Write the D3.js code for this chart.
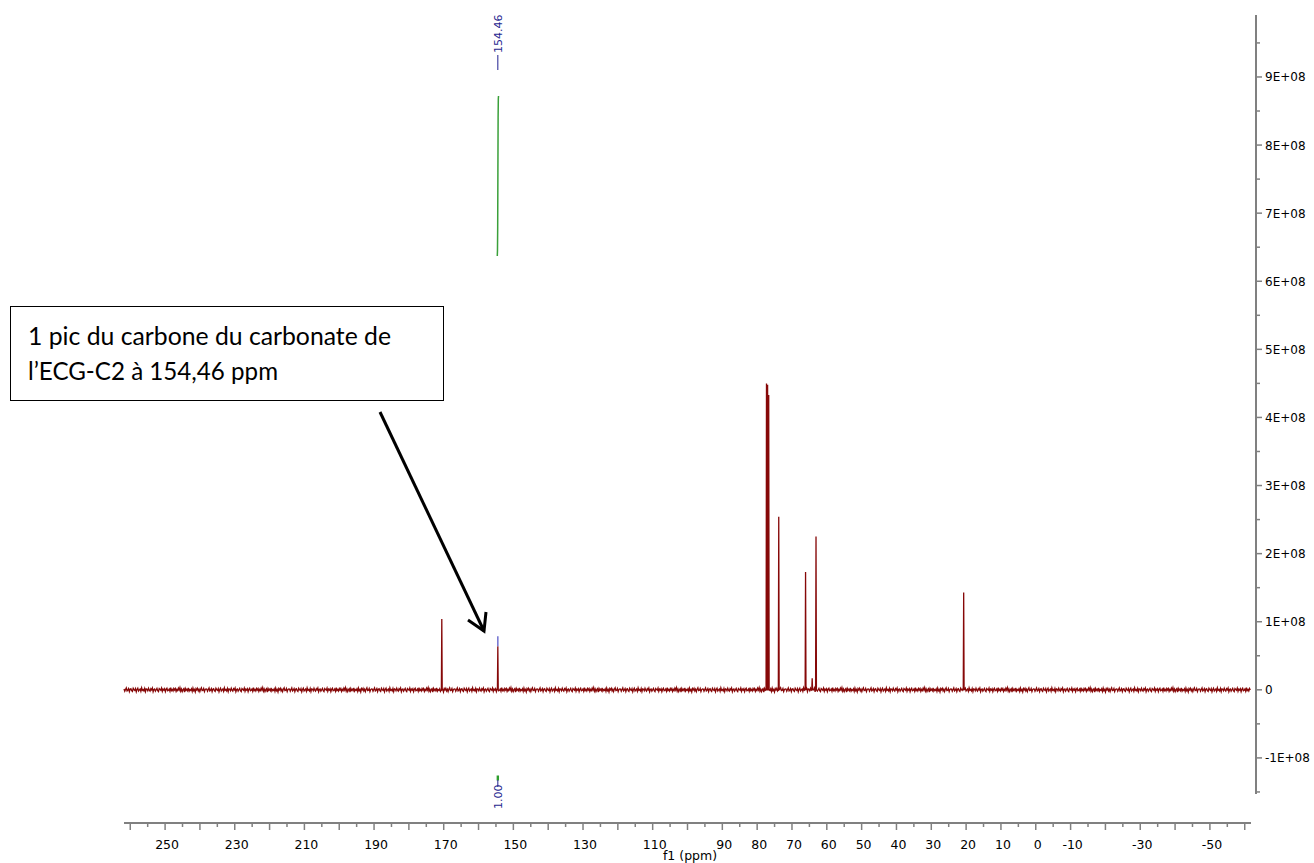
<!DOCTYPE html>
<html lang="fr">
<head>
<meta charset="utf-8">
<style>
  body { margin: 0; background: #fff; }
  svg { display: block; }
</style>
</head>
<body>
<script src="https://d3js.org/d3.v7.min.js"></script>
<script>
// peak positions (ppm) and heights (intensity)
var peakPpm    = [170.55, 154.46, 77.32, 77.0, 76.68, 73.8, 66.1, 64.2, 63.1, 20.7];
var peakHeight = [1.04e8, 0.64e8, 4.50e8, 4.48e8, 4.33e8, 2.54e8, 1.73e8, 0.17e8, 2.25e8, 1.43e8];

// baseline noise pattern (x 1e6), read as a band of about +-3e6
var noise = [1.2,-2.1,0.4,2.8,-1.5,-0.3,1.9,-2.7,0.8,1.5,-1.1,-2.4,2.2,0.2,-0.9,1.7,-3.0,0.6,
             2.5,-1.8,-0.2,1.1,-2.2,2.9,-0.7,0.3,-1.6,2.0,-2.6,1.4,0.9,-1.3,2.4,-0.5,-2.0,1.6,
             -0.1,2.7,-2.9,0.5,1.3,-1.9,0.1,2.1,-1.2,-2.5,1.8,0.7,-0.6,2.6,-2.3,1.0,-0.4,1.5,
             -2.8,0.8,2.3,-1.4,-0.8,1.2,-2.2,3.1,-1.0,0.4,-1.7,2.0,-0.3,1.9,-2.4,0.6,-1.1,2.4,
             -0.4,3.3,-1.9,1.1,-2.6,0.2,1.6,-3.2,2.1,-0.7,0.9,-1.4,2.8,-2.0,0.3,-0.9,1.4,-2.3,
             2.6,-1.2,0.5,-3.1,1.8,-0.2,2.2,-1.6,0.7,-2.7,1.0,3.0,-1.1,-0.6,1.9,-2.5,0.4,1.3];

// integral trace of the 154.46 peak
var integralPpm   = [154.62, 154.56, 154.5, 154.44, 154.38, 154.32, 154.26];
var integralValue = [6.37e8, 6.45e8, 6.8e8, 7.6e8, 8.4e8, 8.68e8, 8.72e8];

var xTickLabels = [250, 230, 210, 190, 170, 150, 130, 110, 90, 80, 70, 60, 50, 40, 30, 20, 10, 0, -10, -30, -50];
var yTickLabels = ["-1E+08", "0", "1E+08", "2E+08", "3E+08", "4E+08", "5E+08", "6E+08", "7E+08", "8E+08", "9E+08"];
var yTickValues = [-1e8, 0, 1e8, 2e8, 3e8, 4e8, 5e8, 6e8, 7e8, 8e8, 9e8];

var peakLabel = "154.46";
var integralLabel = "1.00";
var noteLines = ["1 pic du carbone du carbonate de", "l\u2019ECG-C2 \u00e0 154,46 ppm"];

var width = 1314, height = 863;

var svg = d3.select("body").append("svg")
    .attr("width", width)
    .attr("height", height);

var x = d3.scaleLinear().domain([261.8, -61.8]).range([124, 1251]);
var y = d3.scaleLinear().domain([-1.53e8, 9.91e8]).range([794, 15]);

// spectrum points
var pts = [];
var k = 0;
for (var p = 261.8; p > -61.8; p -= 0.22) {
    var near = peakPpm.some(function (q) { return Math.abs(q - p) < 0.18; });
    if (!near) pts.push([p, noise[k % noise.length] * 1e6]);
    k++;
}
peakPpm.forEach(function (q, i) {
    pts.push([q + 0.12, 0]);
    pts.push([q, peakHeight[i]]);
    pts.push([q - 0.12, 0]);
});
pts.sort(function (a, b) { return b[0] - a[0]; });

var line = d3.line()
    .x(function (d) { return x(d[0]); })
    .y(function (d) { return y(d[1]); });

svg.append("path")
    .datum(pts)
    .attr("fill", "none")
    .attr("stroke", "#860808")
    .attr("stroke-width", 1.3)
    .attr("d", line);

// peak marker above the picked peak
var pi = peakPpm.indexOf(154.46);
svg.append("line")
    .attr("x1", x(154.46)).attr("x2", x(154.46))
    .attr("y1", y(peakHeight[pi])).attr("y2", y(peakHeight[pi]) - 10)
    .attr("stroke", "#7070d0").attr("stroke-width", 1.5);

// integral curve
svg.append("path")
    .datum(d3.zip(integralPpm, integralValue))
    .attr("fill", "none")
    .attr("stroke", "#3aa03a")
    .attr("stroke-width", 1.5)
    .attr("d", line);

// peak label at top
var px = x(154.46);
svg.append("line")
    .attr("x1", px).attr("x2", px).attr("y1", 55).attr("y2", 70)
    .attr("stroke", "#1f1f8f").attr("stroke-width", 1);
svg.append("text")
    .attr("transform", "translate(" + (px + 4) + ",53) rotate(-90)")
    .attr("font-family", "DejaVu Sans")
    .attr("font-size", 11)
    .attr("fill", "#1f1f8f")
    .text(peakLabel);

// integral label at bottom
svg.append("rect")
    .attr("x", px - 1.2).attr("y", 775.5).attr("width", 2.4).attr("height", 5)
    .attr("fill", "#2e9e2e");
svg.append("line")
    .attr("x1", px).attr("x2", px).attr("y1", 780).attr("y2", 787)
    .attr("stroke", "#1f1f8f").attr("stroke-width", 1);
svg.append("text")
    .attr("transform", "translate(" + (px + 4) + ",809) rotate(-90)")
    .attr("font-family", "DejaVu Sans")
    .attr("font-size", 11)
    .attr("fill", "#1f1f8f")
    .text(integralLabel);

// x axis
var axisColor = "#808080";
var xg = svg.append("g");
xg.append("line")
    .attr("x1", 124).attr("x2", 1251).attr("y1", 823).attr("y2", 823)
    .attr("stroke", axisColor).attr("stroke-width", 2);
var xMajor = d3.range(260, -61, -10);
var xMinor = d3.range(255, -61, -10);
xg.selectAll(".xmaj").data(xMajor).enter().append("line")
    .attr("x1", x).attr("x2", x).attr("y1", 823).attr("y2", 830)
    .attr("stroke", axisColor).attr("stroke-width", 1.5);
xg.selectAll(".xmin").data(xMinor).enter().append("line")
    .attr("x1", x).attr("x2", x).attr("y1", 823).attr("y2", 827)
    .attr("stroke", axisColor).attr("stroke-width", 1.5);
xg.selectAll(".xlab").data(xTickLabels).enter().append("text")
    .attr("x", function (d) { return x(d) + 2; })
    .attr("y", 849)
    .attr("text-anchor", "middle")
    .attr("font-family", "DejaVu Sans")
    .attr("font-size", 12.5)
    .attr("fill", "#000")
    .text(function (d) { return d; });
svg.append("text")
    .attr("x", 690).attr("y", 860)
    .attr("text-anchor", "middle")
    .attr("font-family", "DejaVu Sans")
    .attr("font-size", 12.5)
    .text("f1 (ppm)");

// y axis
var yg = svg.append("g");
yg.append("line")
    .attr("x1", 1256).attr("x2", 1256).attr("y1", 15).attr("y2", 794)
    .attr("stroke", axisColor).attr("stroke-width", 2);
yg.selectAll(".ymaj").data(yTickValues).enter().append("line")
    .attr("x1", 1256).attr("x2", 1262)
    .attr("y1", y).attr("y2", y)
    .attr("stroke", axisColor).attr("stroke-width", 1.5);
yg.selectAll(".ymin").data(d3.range(-1.5e8, 9.6e8, 1e8)).enter().append("line")
    .attr("x1", 1256).attr("x2", 1260)
    .attr("y1", y).attr("y2", y)
    .attr("stroke", axisColor).attr("stroke-width", 1.5);
yg.selectAll(".ylab").data(yTickValues).enter().append("text")
    .attr("x", 1265)
    .attr("y", function (d) { return y(d) + 4.5; })
    .attr("font-family", "DejaVu Sans")
    .attr("font-size", 12)
    .attr("fill", "#000")
    .text(function (d, i) { return yTickLabels[i]; });

// annotation box
svg.append("rect")
    .attr("x", 10.5).attr("y", 306.5).attr("width", 433).attr("height", 94)
    .attr("fill", "#fff").attr("stroke", "#000").attr("stroke-width", 1);
svg.selectAll(".note").data(noteLines).enter().append("text")
    .attr("x", 28)
    .attr("y", function (d, i) { return 345 + i * 35; })
    .attr("font-family", "Lato")
    .attr("font-size", 25)
    .attr("fill", "#000")
    .attr("textLength", function (d, i) { return i === 0 ? 363 : 250; })
    .attr("lengthAdjust", "spacingAndGlyphs")
    .text(function (d) { return d; });

// arrow
svg.append("line")
    .attr("x1", 380).attr("y1", 412).attr("x2", 484).attr("y2", 631)
    .attr("stroke", "#000").attr("stroke-width", 3);
svg.append("path")
    .attr("d", "M468,620 L484,631 L486,612")
    .attr("fill", "none").attr("stroke", "#000").attr("stroke-width", 3)
    .attr("stroke-linejoin", "miter");
</script>
</body>
</html>
